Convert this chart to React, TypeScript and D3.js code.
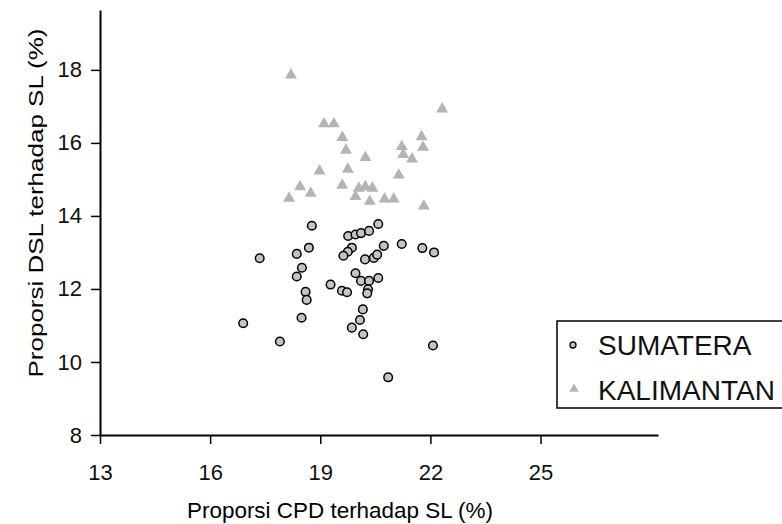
import React, { useEffect, useRef } from "react";
import * as d3 from "d3";

const sumateraX = [18.77, 19.76, 19.96, 20.11, 20.33, 20.58, 17.35, 18.36, 18.69, 19.86, 19.75, 19.63, 20.73, 21.22, 21.78, 22.1, 20.22, 20.46, 20.55, 18.5, 18.36, 19.96, 20.11, 20.33, 20.58, 19.28, 19.59, 19.73, 18.6, 18.63, 20.3, 20.28, 16.9, 18.49, 20.16, 20.08, 19.86, 20.17, 17.9, 22.07, 20.85];
const sumateraY = [13.73, 13.45, 13.49, 13.53, 13.59, 13.78, 12.84, 12.96, 13.13, 13.13, 13.02, 12.91, 13.18, 13.23, 13.12, 13.0, 12.81, 12.85, 12.94, 12.58, 12.34, 12.43, 12.22, 12.22, 12.3, 12.12, 11.95, 11.91, 11.92, 11.7, 11.99, 11.88, 11.06, 11.21, 11.44, 11.15, 10.94, 10.76, 10.56, 10.45, 9.58];

const kalimantanX = [18.2, 19.1, 19.37, 19.6, 19.7, 20.23, 21.22, 21.26, 21.5, 21.76, 21.8, 22.32, 18.98, 19.75, 21.14, 18.45, 18.74, 18.15, 19.6, 20.05, 20.23, 20.42, 19.96, 20.35, 20.75, 21.0, 21.82];
const kalimantanY = [17.86, 16.52, 16.52, 16.15, 15.8, 15.6, 15.9, 15.68, 15.56, 16.17, 15.88, 16.93, 15.23, 15.28, 15.12, 14.8, 14.62, 14.48, 14.84, 14.76, 14.8, 14.76, 14.53, 14.4, 14.46, 14.46, 14.27];

const xTicks = [13, 16, 19, 22, 25];
const yTicks = [8, 10, 12, 14, 16, 18];
const seriesNames = ["SUMATERA", "KALIMANTAN"];

const FONT = "'Liberation Sans', Arial, sans-serif";

export default function App() {
  const ref = useRef<SVGSVGElement>(null);

  useEffect(() => {
    const svg = d3.select(ref.current);
    svg.selectAll("*").remove();

    const x = d3.scaleLinear().domain([13, 28.2]).range([100, 658]);
    const y = d3.scaleLinear().domain([8, 19.64]).range([435, 10]);

    const tri = d3.symbol().type(d3.symbolTriangle).size(62);

    // kalimantan first, sumatera drawn over it
    svg.append("g").selectAll("path").data(d3.range(kalimantanX.length)).join("path")
      .attr("d", tri).attr("transform", (i) => `translate(${x(kalimantanX[i])},${y(kalimantanY[i])})`)
      .attr("fill", "#b4b4b4");

    svg.append("g").selectAll("circle").data(d3.range(sumateraX.length)).join("circle")
      .attr("cx", (i) => x(sumateraX[i])).attr("cy", (i) => y(sumateraY[i])).attr("r", 4.3)
      .attr("fill", "#c4c4c4").attr("stroke", "#000").attr("stroke-width", 1.5);

    const yAxis = svg.append("g").attr("transform", "translate(100,0)")
      .call(d3.axisLeft(y).tickValues(yTicks).tickSize(9).tickSizeOuter(0).tickPadding(9));
    const xAxis = svg.append("g").attr("transform", "translate(0,435)")
      .call(d3.axisBottom(x).tickValues(xTicks).tickSize(9).tickSizeOuter(0).tickPadding(20));

    [xAxis, yAxis].forEach((g) => {
      g.select(".domain").attr("stroke", "#000").attr("stroke-width", 2);
      g.selectAll(".tick line").attr("stroke", "#000").attr("stroke-width", 1.5);
      g.selectAll("text").attr("font-family", FONT).attr("font-size", 22).attr("fill", "#111");
    });

    svg.append("text").attr("x", 340).attr("y", 518).attr("text-anchor", "middle")
      .attr("font-family", FONT).attr("font-size", 22).attr("textLength", 306).attr("lengthAdjust", "spacingAndGlyphs")
      .text("Proporsi CPD terhadap SL (%)");

    svg.append("text").attr("transform", "translate(43,203) rotate(-90)").attr("text-anchor", "middle")
      .attr("font-family", FONT).attr("font-size", 21).attr("textLength", 349).attr("lengthAdjust", "spacingAndGlyphs")
      .text("Proporsi DSL terhadap SL (%)");

    // legend
    const lg = svg.append("g");
    lg.append("rect").attr("x", 557).attr("y", 321).attr("width", 240).attr("height", 87)
      .attr("fill", "#fff").attr("stroke", "#000").attr("stroke-width", 1.5);
    lg.append("circle").attr("cx", 573).attr("cy", 345).attr("r", 3)
      .attr("fill", "#c4c4c4").attr("stroke", "#000").attr("stroke-width", 1.3);
    lg.append("path").attr("d", d3.symbol().type(d3.symbolTriangle).size(40)())
      .attr("transform", "translate(574,389)").attr("fill", "#b4b4b4");
    lg.selectAll("text").data(seriesNames).join("text")
      .attr("x", 598).attr("y", (d, i) => 355 + i * 45)
      .attr("font-family", FONT).attr("font-size", 28).attr("fill", "#111").text((d) => d);
  }, []);

  return (
    <svg ref={ref} width={782} height={524} style={{ position: "absolute", left: 0, top: 0, background: "#fff" }} />
  );
}
